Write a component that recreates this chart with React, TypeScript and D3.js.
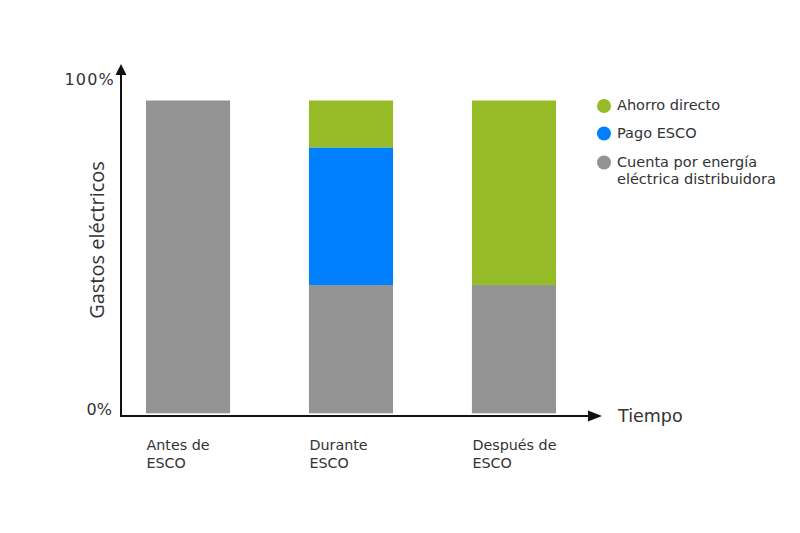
import * as d3 from "d3";

// stage names along the time axis, split in two lines each
const stages = ["Antes", "Durante", "Después"];
const stageLabels = [
  ["Antes de", "ESCO"],
  ["Durante", "ESCO"],
  ["Después de", "ESCO"],
];

// share of the electricity bill (%) per stage
const cuentaEnergia = [100, 41, 41];
const pagoEsco = [0, 44, 0];
const ahorroDirecto = [0, 15, 59];

const seriesKeys = ["cuenta", "pago", "ahorro"];
const seriesColors = ["#939393", "#0080ff", "#95bb27"];

const legendItems = [
  { color: "#95bb27", lines: ["Ahorro directo"] },
  { color: "#0080ff", lines: ["Pago ESCO"] },
  { color: "#939393", lines: ["Cuenta por energía", "eléctrica distribuidora"] },
];

const W = 800;
const H = 533;
const axisX = 121;
const axisY = 416;
const font = "'DejaVu Sans', Verdana, sans-serif";

export default function App() {
  const rows = stages.map((s, i) => ({
    stage: s,
    cuenta: cuentaEnergia[i],
    pago: pagoEsco[i],
    ahorro: ahorroDirecto[i],
  }));

  const x = d3.scaleBand<string>().domain(stages).range([146, 556]).paddingInner(0.484);
  const y = d3.scaleLinear().domain([0, 100]).range([413.3, 100.5]);

  const stacked = d3.stack<any>().keys(seriesKeys)(rows);

  return (
    <svg
      width={W}
      height={H}
      style={{ position: "absolute", left: 0, top: 0, background: "#fff" }}
    >
      {/* stacked bars */}
      {stacked.map((layer, li) => (
        <g key={layer.key} fill={seriesColors[li]}>
          {layer.map((d, i) =>
            d[1] - d[0] > 0 ? (
              <rect
                key={i}
                x={x(stages[i])}
                y={y(d[1])}
                width={x.bandwidth()}
                height={y(d[0]) - y(d[1])}
              />
            ) : null
          )}
        </g>
      ))}

      {/* axes with arrow heads */}
      <line x1={axisX} y1={axisY + 1} x2={axisX} y2={74} stroke="#111" strokeWidth={2} />
      <path d={`M${axisX},64 L${axisX - 5.5},75 L${axisX + 5.5},75 Z`} fill="#111" />
      <line x1={axisX - 1} y1={axisY} x2={590} y2={axisY} stroke="#111" strokeWidth={2} />
      <path d={`M602,${axisY} L588,${axisY - 5.5} L588,${axisY + 5.5} Z`} fill="#111" />

      <text x={115} y={85} textAnchor="end" fontFamily={font} fontSize={16} letterSpacing={1.2} fill="#333">
        100%
      </text>
      <text x={112} y={415} textAnchor="end" fontFamily={font} fontSize={16} fill="#333">
        0%
      </text>

      <text
        transform={`translate(104,240) rotate(-90)`}
        textAnchor="middle"
        fontFamily="'Open Sans', sans-serif"
        fontSize={20}
        fill="#333"
      >
        Gastos eléctricos
      </text>

      <text x={618} y={422} fontFamily={font} fontSize={17.5} fill="#333">
        Tiempo
      </text>

      {/* stage labels */}
      {stageLabels.map((lines, i) => (
        <text key={i} fontFamily={font} fontSize={14.3} fill="#333">
          {lines.map((l, j) => (
            <tspan key={j} x={(x(stages[i]) ?? 0) + 0.5} y={450 + j * 18}>
              {l}
            </tspan>
          ))}
        </text>
      ))}

      {/* legend */}
      {legendItems.map((item, i) => {
        const base = [110, 137.5, 166.5][i];
        return (
          <g key={i}>
            <circle cx={604} cy={base - 4} r={7} fill={item.color} />
            <text fontFamily={font} fontSize={14.5} fill="#333">
              {item.lines.map((l, j) => (
                <tspan key={j} x={617} y={base + j * 17}>
                  {l}
                </tspan>
              ))}
            </text>
          </g>
        );
      })}
    </svg>
  );
}
